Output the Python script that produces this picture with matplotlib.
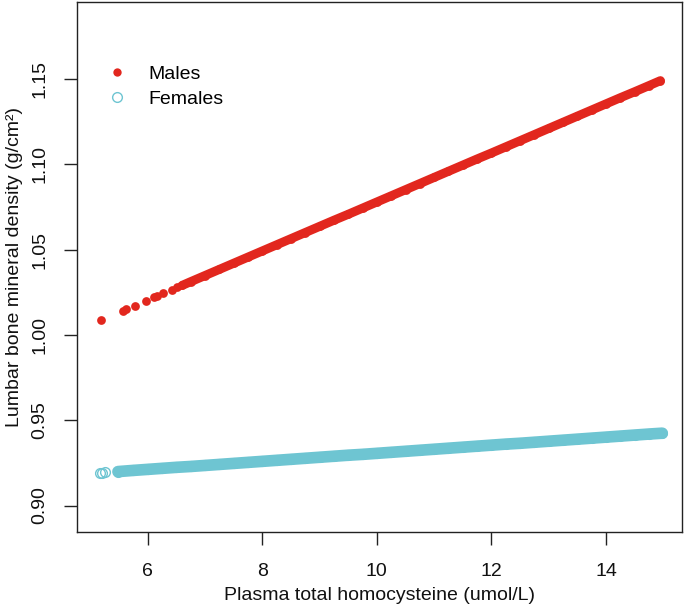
import matplotlib
matplotlib.use("Agg")
import matplotlib.pyplot as plt
from matplotlib.lines import Line2D

plt.rcParams['font.family'] = ['Liberation Sans', 'DejaVu Sans']

# Male fitted values (homocysteine, BMD)
male_x = [5.18, 5.57, 5.62, 5.77, 5.97, 6.11, 6.16, 6.27, 6.42, 6.51, 6.60,
          6.75, 7.00, 7.25, 7.50, 7.75, 8.00, 8.25, 8.50, 8.75, 9.00, 9.25,
          9.50, 9.75, 10.00, 10.25, 10.50, 10.75, 11.00, 11.25, 11.50, 11.75,
          12.00, 12.25, 12.50, 12.75, 13.00, 13.25, 13.50, 13.75, 14.00,
          14.25, 14.50, 14.75, 14.95]
male_y = [1.0086, 1.0142, 1.0150, 1.0171, 1.0200, 1.0220, 1.0227, 1.0243,
          1.0265, 1.0278, 1.0290,
          1.0312, 1.0348, 1.0384, 1.0420, 1.0456, 1.0492, 1.0528, 1.0564,
          1.0600, 1.0636, 1.0672, 1.0707, 1.0743, 1.0779, 1.0815, 1.0851,
          1.0887, 1.0923, 1.0959, 1.0995, 1.1031, 1.1066, 1.1102, 1.1138,
          1.1174, 1.1210, 1.1246, 1.1282, 1.1318, 1.1354, 1.1390, 1.1425,
          1.1461, 1.1490]
male_dense_from = 10

# Female fitted values
female_x = [5.17, 5.21, 5.25, 5.48, 5.75, 6.00, 6.25, 6.50, 6.75, 7.00,
            7.25, 7.50, 7.75, 8.00, 8.25, 8.50, 8.75, 9.00, 9.25, 9.50,
            9.75, 10.00, 10.25, 10.50, 10.75, 11.00, 11.25, 11.50, 11.75,
            12.00, 12.25, 12.50, 12.75, 13.00, 13.25, 13.50, 13.75, 14.00,
            14.25, 14.50, 14.75, 14.98]
female_y = [0.9192, 0.9193, 0.9194, 0.9199, 0.9206, 0.9212, 0.9218, 0.9224,
            0.9229, 0.9235, 0.9241, 0.9247, 0.9253, 0.9259, 0.9265, 0.9271,
            0.9277, 0.9283, 0.9289, 0.9295, 0.9300, 0.9306, 0.9312, 0.9318,
            0.9324, 0.9330, 0.9336, 0.9342, 0.9348, 0.9354, 0.9360, 0.9365,
            0.9371, 0.9377, 0.9383, 0.9389, 0.9395, 0.9401, 0.9407, 0.9413,
            0.9419, 0.9424]
female_dense_from = 3

x_ticks = [6, 8, 10, 12, 14]
y_ticks = [0.90, 0.95, 1.00, 1.05, 1.10, 1.15]
y_ticklabels = ["0.90", "0.95", "1.00", "1.05", "1.10", "1.15"]

red = "#E2271E"
cyan = "#6EC5D2"

fig = plt.figure(figsize=(6.85, 6.06), dpi=100)
ax = fig.add_axes([77/685, 1 - 532/606, 605/685, 530/606])

# Male band and points
ax.plot(male_x[male_dense_from:], male_y[male_dense_from:], color=red,
        lw=6.5, solid_capstyle='round', zorder=2)
ax.plot(male_x, male_y, linestyle='none', marker='o', ms=6.3, mfc=red,
        mec=red, mew=0, zorder=3)

# Female band and points
ax.plot(female_x[female_dense_from:], female_y[female_dense_from:],
        color=cyan, lw=8.4, solid_capstyle='round', zorder=2)
ax.plot(female_x, female_y, linestyle='none', marker='o', ms=7.0, mfc='none',
        mec=cyan, mew=1.0, zorder=3)

ax.set_xlim(4.765, 15.327)
ax.set_ylim(0.8845, 1.1951)
ax.set_xticks(x_ticks)
ax.set_xticklabels([str(t) for t in x_ticks])
ax.set_yticks(y_ticks)
ax.set_yticklabels(y_ticklabels, rotation=90, va='center')

for s in ax.spines.values():
    s.set_linewidth(1.0)
    s.set_color('#222222')
ax.tick_params(axis='both', direction='out', length=9.4, width=1.0,
               color='#222222', labelsize=14, labelcolor='#111111')
ax.tick_params(axis='x', pad=13)
ax.tick_params(axis='y', pad=11)

ax.set_xlabel("Plasma total homocysteine (umol/L)", fontsize=14,
              color='#111111', labelpad=5)
ax.set_ylabel("Lumbar bone mineral density (g/cm²)", fontsize=14,
              color='#111111', labelpad=6)

handles = [
    Line2D([], [], linestyle='none', marker='o', ms=6.0, mfc=red, mec=red,
           mew=0),
    Line2D([], [], linestyle='none', marker='o', ms=7.0, mfc='none',
           mec=cyan, mew=1.0),
]
ax.legend(handles, ["Males", "Females"], loc='upper left',
          bbox_to_anchor=(0.038, 0.895), frameon=False, fontsize=14,
          handlelength=1.0, handletextpad=1.1, labelspacing=0.38,
          borderaxespad=0)

fig.savefig("out.png", dpi=100)
